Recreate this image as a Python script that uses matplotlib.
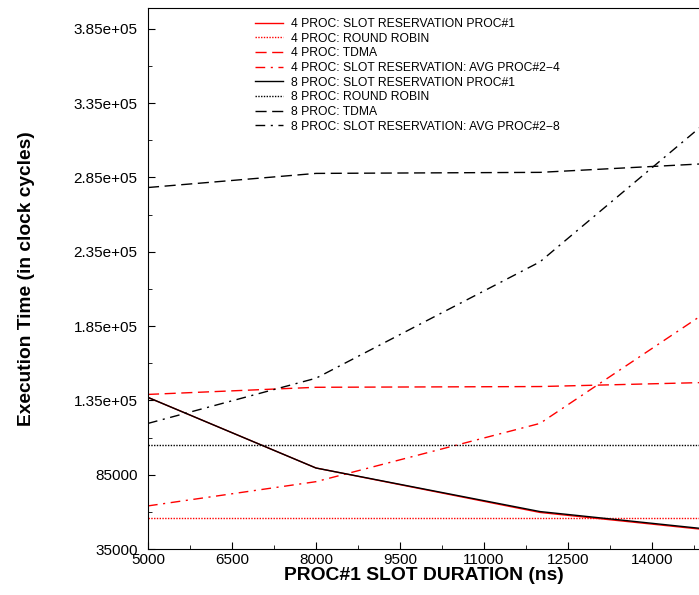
import matplotlib.pyplot as plt
from matplotlib.ticker import AutoMinorLocator

plt.rcParams['font.family'] = ['Liberation Sans', 'DejaVu Sans']

# slot duration (ns)
x = [5000, 8000, 12000, 16000]

sr1_4 = [137000, 89500, 59600, 43900]
rr_4 = [55700, 55700, 55700, 55700]
tdma_4 = [139000, 143800, 144300, 148000]
sr_avg_4 = [64000, 80300, 119500, 220300]
sr1_8 = [137000, 89500, 60200, 44400]
rr_8 = [105300, 105300, 105300, 105300]
tdma_8 = [278200, 287700, 288400, 296300]
sr_avg_8 = [119500, 149900, 228200, 354800]

labels = [
    "4 PROC: SLOT RESERVATION PROC#1",
    "4 PROC: ROUND ROBIN",
    "4 PROC: TDMA",
    "4 PROC: SLOT RESERVATION: AVG PROC#2\u22124",
    "8 PROC: SLOT RESERVATION PROC#1",
    "8 PROC: ROUND ROBIN",
    "8 PROC: TDMA",
    "8 PROC: SLOT RESERVATION: AVG PROC#2\u22128",
]

yticks = [35000, 85000, 135000, 185000, 235000, 285000, 335000, 385000]
ytick_labels = ["35000", "85000", "1.35e+05", "1.85e+05", "2.35e+05",
                "2.85e+05", "3.35e+05", "3.85e+05"]
xticks = [5000, 6500, 8000, 9500, 11000, 12500, 14000]

fig = plt.figure(figsize=(6.99, 5.95), dpi=100)
# axes runs off the right edge of the picture, as in the original
ax = fig.add_axes([0.2117, 0.0773, 0.7883, 0.9093])

red = "#ff0000"
dash = (0, (8, 4))
dashdot = (0, (7, 4, 1.5, 4))
ax.plot(x, sr1_4, color=red, lw=1, ls="-", label=labels[0])
ax.plot(x, rr_4, color=red, lw=1, ls=(0, (1, 1)), label=labels[1])
ax.plot(x, tdma_4, color=red, lw=1, ls=dash, label=labels[2])
ax.plot(x, sr_avg_4, color=red, lw=1, ls=dashdot, label=labels[3])
ax.plot(x, sr1_8, color="black", lw=1, ls="-", label=labels[4])
ax.plot(x, rr_8, color="black", lw=1, ls=(0, (1, 1)), label=labels[5])
ax.plot(x, tdma_8, color="black", lw=1, ls=dash, label=labels[6])
ax.plot(x, sr_avg_8, color="black", lw=1, ls=dashdot, label=labels[7])

ax.set_xlim(5000, 14840)
ax.set_ylim(35000, 399000)
ax.set_xticks(xticks)
ax.set_yticks(yticks)
ax.set_yticklabels(ytick_labels)
ax.xaxis.set_minor_locator(AutoMinorLocator(2))
ax.yaxis.set_minor_locator(AutoMinorLocator(2))
ax.tick_params(which="both", direction="in", labelsize=11)
ax.tick_params(which="major", length=5)
ax.tick_params(which="minor", length=3)
ax.tick_params(axis="y", pad=7.5)
ax.tick_params(axis="x", pad=3)
ax.spines["right"].set_visible(False)

ax.set_xlabel("PROC#1 SLOT DURATION (ns)", fontsize=13.9, fontweight="bold", labelpad=0)
ax.set_ylabel("Execution Time (in clock cycles)", fontsize=13.8, fontweight="bold", labelpad=28)

ax.legend(loc="upper left", bbox_to_anchor=(0.179, 0.997), fontsize=8.7, frameon=False,
          handlelength=2.35, labelspacing=0.22, handletextpad=0.6, borderaxespad=0.3)

fig.savefig("out.png", dpi=100)
